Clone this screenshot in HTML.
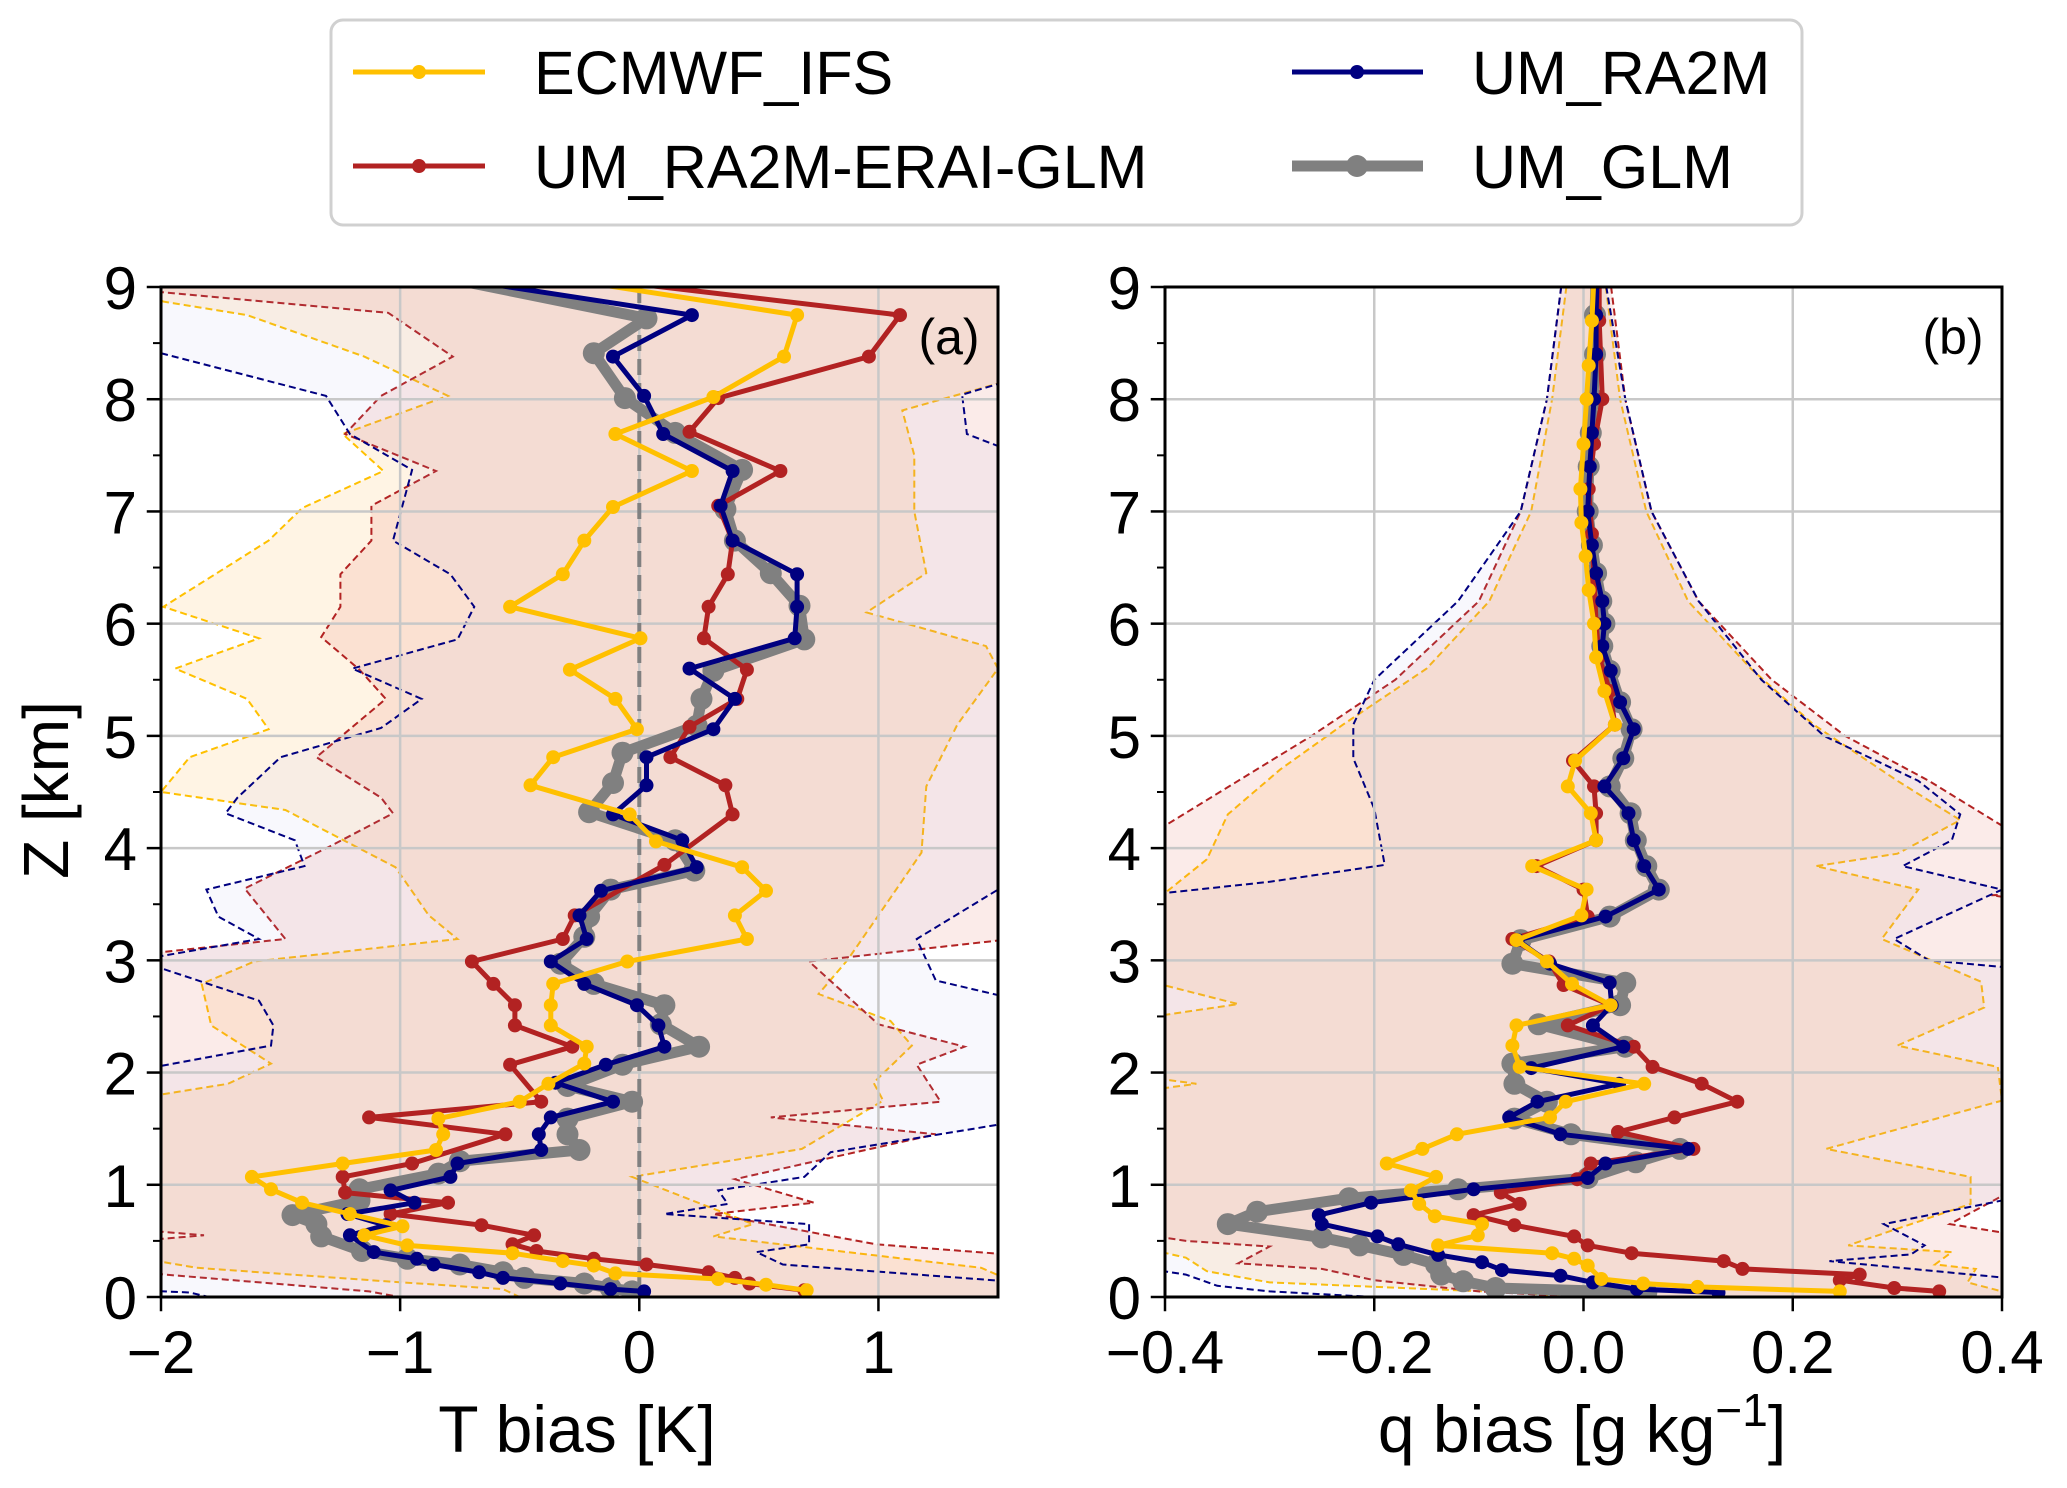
<!DOCTYPE html>
<html><head><meta charset="utf-8"><style>
html,body{margin:0;padding:0;background:#fff;}
svg{display:block;font-family:"Liberation Sans",sans-serif;}
</style></head><body>
<svg id="fig" width="2067" height="1488" viewBox="0 0 2067 1488" xmlns="http://www.w3.org/2000/svg">
<defs>
<clipPath id="clipA"><rect x="161" y="287" width="837" height="1010"/></clipPath>
<clipPath id="clipB"><rect x="1165" y="287" width="837" height="1010"/></clipPath>
</defs>
<g id="bandsA" clip-path="url(#clipA)"></g>
<g id="bandsB" clip-path="url(#clipB)"></g>
<g id="grid"></g>
<line x1="639.3" y1="287" x2="639.3" y2="1297" stroke="#808080" stroke-width="4" stroke-dasharray="16,8"/>
<g id="seriesA" clip-path="url(#clipA)"></g>
<g id="seriesB" clip-path="url(#clipB)"></g>
<g id="axes"></g>
<text x="949" y="354" font-size="50" text-anchor="middle">(a)</text>
<text x="1953" y="354" font-size="50" text-anchor="middle">(b)</text>
<text x="577" y="1452" font-size="66" text-anchor="middle">T bias [K]</text>
<text x="1582" y="1452" font-size="66" text-anchor="middle">q bias [g kg<tspan dy="-26" font-size="46">−1</tspan><tspan dy="26">]</tspan></text>
<text transform="translate(68,790) rotate(-90)" font-size="64" text-anchor="middle">Z [km]</text>
<g>
<rect x="331" y="20" width="1471" height="205" rx="12" fill="#fff" stroke="#d0d0d0" stroke-width="3"/>
<g>
<line x1="353" y1="72" x2="485" y2="72" stroke="#FFC000" stroke-width="5"/><circle cx="419" cy="72" r="7" fill="#FFC000"/>
<text x="534" y="94" font-size="61">ECMWF_IFS</text></g>
<g>
<line x1="353" y1="166" x2="485" y2="166" stroke="#B22222" stroke-width="5"/><circle cx="419" cy="166" r="7" fill="#B22222"/>
<text x="534" y="188" font-size="61">UM_RA2M-ERAI-GLM</text></g>
<g>
<line x1="1292" y1="72" x2="1423" y2="72" stroke="#000080" stroke-width="5"/><circle cx="1357" cy="72" r="7" fill="#000080"/>
<text x="1472" y="94" font-size="61">UM_RA2M</text></g>
<g>
<line x1="1292" y1="166" x2="1423" y2="166" stroke="#808080" stroke-width="11"/><circle cx="1357" cy="166" r="11" fill="#808080"/>
<text x="1472" y="188" font-size="61">UM_GLM</text></g>
</g>
</svg>
<script>
// ---------- Panel (a) T bias data: [value, z km] ----------
const aECMWF=[[-0.4,9.1],[0.66,8.75],[0.605,8.38],[0.31,8.02],[-0.10,7.69],[0.22,7.36],[-0.11,7.04],[-0.23,6.74],[-0.32,6.44],[-0.54,6.15],[0.005,5.87],[-0.29,5.59],[-0.10,5.33],[-0.01,5.06],[-0.36,4.81],[-0.455,4.56],[-0.04,4.30],[0.07,4.06],[0.43,3.83],[0.53,3.62],[0.40,3.40],[0.45,3.19],[-0.05,2.99],[-0.36,2.79],[-0.37,2.60],[-0.37,2.42],[-0.22,2.23],[-0.23,2.08],[-0.38,1.90],[-0.50,1.74],[-0.84,1.59],[-0.82,1.45],[-0.85,1.31],[-1.24,1.19],[-1.62,1.07],[-1.54,0.96],[-1.41,0.84],[-1.21,0.74],[-0.99,0.63],[-1.15,0.55],[-0.97,0.46],[-0.53,0.39],[-0.32,0.32],[-0.19,0.28],[-0.10,0.21],[0.33,0.16],[0.53,0.11],[0.70,0.06]];
const aRED=[[-0.3,9.1],[1.09,8.75],[0.96,8.38],[0.33,8.01],[0.21,7.71],[0.59,7.36],[0.33,7.05],[0.39,6.74],[0.37,6.44],[0.29,6.15],[0.27,5.87],[0.45,5.59],[0.41,5.33],[0.21,5.08],[0.13,4.81],[0.36,4.56],[0.39,4.30],[0.105,3.85],[-0.27,3.40],[-0.32,3.19],[-0.70,2.99],[-0.61,2.79],[-0.52,2.60],[-0.52,2.42],[-0.28,2.23],[-0.54,2.07],[-0.41,1.74],[-1.13,1.60],[-0.56,1.45],[-0.95,1.19],[-1.24,1.07],[-1.23,0.93],[-0.80,0.84],[-1.04,0.74],[-0.66,0.64],[-0.44,0.55],[-0.53,0.47],[-0.43,0.41],[-0.19,0.34],[0.03,0.29],[0.29,0.22],[0.40,0.17],[0.46,0.12],[0.69,0.06]];
const aBLUE=[[-0.85,9.1],[0.22,8.75],[-0.11,8.38],[0.02,8.03],[0.10,7.69],[0.39,7.36],[0.34,7.05],[0.39,6.74],[0.66,6.44],[0.66,6.15],[0.65,5.87],[0.21,5.60],[0.40,5.33],[0.31,5.06],[0.03,4.81],[0.03,4.56],[-0.11,4.30],[0.18,4.07],[0.24,3.83],[-0.16,3.62],[-0.25,3.40],[-0.22,3.19],[-0.37,2.99],[-0.23,2.79],[-0.01,2.60],[0.08,2.42],[0.105,2.23],[-0.14,2.07],[-0.35,1.91],[-0.11,1.74],[-0.37,1.60],[-0.42,1.45],[-0.41,1.31],[-0.76,1.19],[-0.79,1.07],[-1.04,0.95],[-0.94,0.84],[-1.22,0.74],[-1.06,0.64],[-1.21,0.55],[-1.11,0.40],[-0.93,0.34],[-0.86,0.29],[-0.67,0.22],[-0.57,0.17],[-0.33,0.12],[-0.12,0.07],[0.02,0.05]];
const aGRAY=[[-0.85,9.1],[0.03,8.72],[-0.19,8.41],[-0.06,8.01],[0.15,7.70],[0.43,7.37],[0.36,7.02],[0.40,6.74],[0.55,6.45],[0.67,6.16],[0.69,5.86],[0.31,5.58],[0.26,5.33],[0.24,5.09],[-0.07,4.85],[-0.11,4.58],[-0.21,4.32],[0.15,4.07],[0.23,3.80],[-0.12,3.63],[-0.21,3.39],[-0.23,3.21],[-0.33,2.97],[-0.19,2.79],[0.105,2.60],[0.09,2.43],[0.25,2.23],[-0.07,2.07],[-0.30,1.88],[-0.03,1.74],[-0.30,1.59],[-0.30,1.45],[-0.25,1.31],[-0.75,1.21],[-0.84,1.10],[-1.17,0.96],[-1.17,0.86],[-1.45,0.73],[-1.35,0.65],[-1.33,0.54],[-1.16,0.41],[-0.97,0.34],[-0.75,0.29],[-0.57,0.22],[-0.48,0.17],[-0.23,0.12],[-0.12,0.08],[-0.03,0.05]];
const aBandYL=[[-2.2,9.1],[-1.99,8.87],[-1.64,8.75],[-1.15,8.38],[-0.80,8.03],[-1.24,7.69],[-1.07,7.36],[-1.41,7.03],[-1.55,6.74],[-1.99,6.15],[-1.59,5.87],[-1.94,5.6],[-1.64,5.33],[-1.55,5.06],[-1.88,4.81],[-2.0,4.5],[-1.48,4.34],[-1.02,3.83],[-0.88,3.40],[-0.76,3.19],[-1.61,2.99],[-1.83,2.79],[-1.79,2.42],[-1.54,2.08],[-1.72,1.90],[-2.1,1.77],[-2.1,0.35],[-1.85,0.26],[-1.06,0.14],[-0.57,0.07],[-0.5,0]];
const aBandYR=[[1.6,9.1],[1.6,8.2],[1.1,7.9],[1.15,7.5],[1.15,7.0],[1.2,6.45],[0.95,6.1],[1.45,5.8],[1.5,5.6],[1.33,5.1],[1.2,4.55],[1.18,3.96],[1.0,3.4],[0.87,3.0],[0.75,2.7],[1.05,2.46],[1.14,2.24],[0.98,1.91],[1.02,1.75],[0.68,1.32],[-0.03,1.07],[0.475,0.65],[0.31,0.54],[1.43,0.26],[1.6,0.1],[1.6,0]];
const aBandRL=[[-2.2,9.0],[-1.98,8.95],[-1.05,8.77],[-0.78,8.38],[-1.08,8.03],[-1.23,7.69],[-0.85,7.36],[-1.12,7.05],[-1.12,6.74],[-1.25,6.44],[-1.25,6.15],[-1.33,5.88],[-1.17,5.59],[-1.06,5.33],[-1.35,4.81],[-1.08,4.45],[-1.03,4.31],[-1.28,4.03],[-1.65,3.64],[-1.48,3.19],[-2.1,3.05],[-2.1,0.6],[-1.82,0.55],[-2.1,0.5],[-2.1,0.22],[-1.13,0.05],[-1.0,0]];
const aBandRR=[[1.6,9.0],[1.6,3.2],[0.71,2.99],[1.0,2.43],[1.36,2.23],[1.16,2.07],[1.26,1.74],[0.55,1.60],[1.24,1.45],[0.40,1.05],[0.73,0.84],[0.31,0.74],[0.99,0.47],[1.6,0.37],[1.6,0]];
const aBandBL=[[-2.2,9.1],[-2.2,8.45],[-2.0,8.41],[-1.31,8.03],[-1.21,7.69],[-0.95,7.37],[-1.03,6.74],[-0.79,6.44],[-0.69,6.15],[-0.76,5.86],[-1.20,5.6],[-0.91,5.33],[-1.08,5.07],[-1.50,4.81],[-1.68,4.45],[-1.73,4.31],[-1.44,4.07],[-1.40,3.84],[-1.81,3.63],[-1.76,3.39],[-1.59,3.19],[-2.1,3.0],[-1.59,2.64],[-1.53,2.42],[-1.54,2.24],[-2.1,2.02],[-2.1,0.06],[-1.88,0.04],[-1.8,0]];
const aBandBR=[[1.6,9.1],[1.6,8.2],[1.35,8.04],[1.37,7.69],[1.6,7.5],[1.6,3.7],[1.5,3.63],[1.16,3.19],[1.24,2.82],[1.6,2.64],[1.6,1.57],[0.80,1.29],[0.69,1.07],[0.33,0.95],[0.37,0.83],[0.105,0.74],[0.71,0.65],[0.71,0.47],[0.49,0.40],[0.60,0.29],[1.6,0.13],[1.6,0]];
// ---------- Panel (b) q bias data ----------
const bECMWF=[[0.01,9.1],[0.008,8.7],[0.005,8.3],[0.003,8.0],[0.0,7.6],[-0.003,7.2],[-0.002,6.9],[0.002,6.6],[0.005,6.3],[0.01,6.0],[0.012,5.7],[0.02,5.4],[0.03,5.1],[-0.008,4.78],[-0.015,4.55],[0.007,4.31],[0.012,4.07],[-0.049,3.84],[0.003,3.63],[-0.002,3.40],[-0.064,3.18],[-0.035,2.99],[-0.011,2.79],[0.026,2.60],[-0.064,2.42],[-0.068,2.24],[-0.061,2.05],[0.058,1.90],[-0.017,1.74],[-0.032,1.60],[-0.121,1.45],[-0.154,1.32],[-0.188,1.19],[-0.141,1.07],[-0.165,0.95],[-0.157,0.83],[-0.142,0.72],[-0.097,0.65],[-0.101,0.55],[-0.139,0.46],[-0.03,0.39],[-0.009,0.34],[0.004,0.28],[0.017,0.16],[0.057,0.12],[0.109,0.09],[0.245,0.05]];
const bRED=[[0.015,9.1],[0.015,8.7],[0.018,8.0],[0.01,7.6],[0.005,7.2],[0.008,6.8],[0.01,6.4],[0.012,6.0],[0.015,5.7],[0.025,5.4],[0.03,5.1],[-0.01,4.78],[0.01,4.55],[0.012,4.31],[0.012,4.07],[-0.045,3.84],[0.0,3.63],[0.004,3.39],[-0.068,3.19],[-0.033,2.99],[-0.019,2.78],[0.026,2.60],[-0.015,2.42],[0.048,2.23],[0.066,2.05],[0.113,1.90],[0.147,1.74],[0.087,1.60],[0.033,1.47],[0.105,1.32],[0.007,1.19],[-0.006,1.05],[-0.079,0.93],[-0.061,0.83],[-0.105,0.73],[-0.066,0.64],[-0.009,0.54],[0.004,0.46],[0.046,0.39],[0.134,0.32],[0.152,0.25],[0.264,0.20],[0.245,0.15],[0.297,0.08],[0.34,0.05]];
const bBLUE=[[0.013,9.1],[0.012,8.75],[0.012,8.4],[0.010,8.0],[0.008,7.7],[0.006,7.4],[0.004,7.0],[0.008,6.7],[0.012,6.45],[0.018,6.2],[0.02,6.0],[0.018,5.8],[0.026,5.58],[0.035,5.3],[0.048,5.06],[0.038,4.8],[0.02,4.55],[0.043,4.31],[0.048,4.07],[0.058,3.84],[0.072,3.63],[0.021,3.39],[-0.063,3.18],[-0.032,2.97],[0.025,2.80],[0.027,2.60],[0.009,2.42],[0.038,2.23],[-0.05,2.04],[0.034,1.90],[-0.044,1.74],[-0.071,1.60],[-0.022,1.45],[0.10,1.32],[0.021,1.19],[0.004,1.06],[-0.105,0.96],[-0.203,0.84],[-0.253,0.73],[-0.25,0.65],[-0.197,0.54],[-0.177,0.47],[-0.139,0.375],[-0.097,0.31],[-0.078,0.24],[-0.022,0.19],[0.009,0.13],[0.051,0.07],[0.129,0.04]];
const bGRAY=[[0.012,9.1],[0.011,8.75],[0.011,8.4],[0.009,8.0],[0.007,7.7],[0.005,7.4],[0.004,7.0],[0.008,6.7],[0.012,6.45],[0.017,6.2],[0.02,6.0],[0.018,5.8],[0.025,5.58],[0.035,5.3],[0.046,5.06],[0.038,4.8],[0.025,4.55],[0.045,4.31],[0.05,4.07],[0.06,3.84],[0.072,3.63],[0.025,3.39],[-0.06,3.18],[-0.068,2.97],[0.04,2.80],[0.035,2.60],[-0.043,2.43],[0.04,2.23],[-0.068,2.08],[-0.066,1.90],[-0.035,1.74],[-0.066,1.59],[-0.012,1.45],[0.092,1.32],[0.05,1.20],[0.004,1.06],[-0.12,0.96],[-0.224,0.88],[-0.312,0.76],[-0.34,0.65],[-0.25,0.53],[-0.214,0.46],[-0.172,0.375],[-0.141,0.29],[-0.136,0.20],[-0.115,0.14],[-0.084,0.08],[0.06,0.04]];
const bBandYL=[[-0.015,9.1],[-0.03,8],[-0.05,7],[-0.09,6.2],[-0.15,5.6],[-0.23,5.1],[-0.29,4.7],[-0.34,4.3],[-0.36,3.9],[-0.4,3.6],[-0.45,3.3],[-0.41,2.8],[-0.33,2.61],[-0.41,2.5],[-0.45,2.0],[-0.37,1.9],[-0.45,1.8],[-0.45,0.5],[-0.38,0.35],[-0.36,0.23],[-0.30,0.13],[-0.07,0.04],[0,0]];
const bBandYR=[[0.02,9.1],[0.035,8],[0.06,7],[0.1,6.2],[0.16,5.6],[0.22,5.1],[0.3,4.6],[0.36,4.25],[0.3,3.95],[0.222,3.84],[0.32,3.63],[0.285,3.19],[0.38,2.81],[0.383,2.58],[0.30,2.24],[0.396,2.05],[0.4,1.75],[0.232,1.32],[0.37,1.07],[0.37,0.83],[0.253,0.46],[0.352,0.40],[0.336,0.29],[0.375,0.25],[0.367,0.13],[0.4,0.05],[0.4,0]];
const bBandRL=[[-0.02,9.1],[-0.035,8],[-0.06,7],[-0.1,6.2],[-0.18,5.5],[-0.26,5.0],[-0.33,4.6],[-0.4,4.2],[-0.45,4.0],[-0.45,0.6],[-0.38,0.5],[-0.3,0.45],[-0.33,0.3],[-0.25,0.25],[-0.2,0.15],[-0.1,0.05],[0,0]];
const bBandRR=[[0.025,9.1],[0.04,8],[0.065,7],[0.11,6.2],[0.18,5.5],[0.25,5.0],[0.33,4.6],[0.4,4.2],[0.45,4.0],[0.45,3.6],[0.39,3.58],[0.45,3.5],[0.45,1.0],[0.4,0.9],[0.35,0.65],[0.45,0.5],[0.45,0]];
const bBandBL=[[-0.02,9.1],[-0.035,8],[-0.06,7],[-0.12,6.2],[-0.2,5.5],[-0.22,5.1],[-0.22,4.8],[-0.2,4.35],[-0.19,3.85],[-0.3,3.7],[-0.4,3.6],[-0.45,3.5],[-0.45,0.3],[-0.38,0.2],[-0.35,0.1],[-0.3,0.05],[-0.2,0]];
const bBandBR=[[0.02,9.1],[0.04,8],[0.065,7],[0.11,6.2],[0.17,5.5],[0.23,5.0],[0.32,4.6],[0.36,4.3],[0.352,4.07],[0.305,3.84],[0.4,3.63],[0.297,3.19],[0.33,3.0],[0.45,2.9],[0.45,0.9],[0.4,0.86],[0.287,0.65],[0.326,0.46],[0.313,0.38],[0.235,0.32],[0.45,0.13],[0.45,0]];
const zTicks=[0,1,2,3,4,5,6,7,8,9];
const aTicks=[-2,-1,0,1];
const aTickLabels=["−2","−1","0","1"];
const bTicks=[-0.4,-0.2,0,0.2,0.4];
const bTickLabels=["−0.4","−0.2","0.0","0.2","0.4"];

const NS="http://www.w3.org/2000/svg";
const Y0=1297,Y1=287;
function yz(z){return Y0-(z/9)*(Y0-Y1);}
function xa(v){return 161+(v+2)/3.5*837;}
function xb(v){return 1165+(v+0.4)/0.8*837;}
function mk(tag,parent){const e=document.createElementNS(NS,tag);parent.appendChild(e);return e;}
function pts(arr,xf){return arr.map(p=>xf(p[0]).toFixed(1)+","+yz(p[1]).toFixed(1)).join(" ");}

function drawBand(g,L,R,xf,fill,op,stroke,name){
  const poly=mk("polygon",g);
  
  
  poly.setAttribute("points",pts(L,xf)+" "+pts(R.slice().reverse(),xf));
  poly.setAttribute("fill",fill);poly.setAttribute("fill-opacity",op);
  [L,R].forEach((b,i)=>{
    const pl=mk("polyline",g);
    
    
    pl.setAttribute("points",pts(b,xf));pl.setAttribute("fill","none");
    pl.setAttribute("stroke",stroke);pl.setAttribute("stroke-width","2");pl.setAttribute("stroke-dasharray","7,4");
  });
}
const bA=document.getElementById("bandsA"),bB=document.getElementById("bandsB");
drawBand(bA,aBandYL,aBandYR,xa,"rgb(255,200,120)",0.2,"#FFC000","ecmwf-band-a");
drawBand(bA,aBandRL,aBandRR,xa,"rgb(230,120,110)",0.15,"#B22222","red-band-a");
drawBand(bA,aBandBL,aBandBR,xa,"rgb(160,160,230)",0.08,"#000080","blue-band-a");
drawBand(bB,bBandYL,bBandYR,xb,"rgb(255,200,120)",0.2,"#FFC000","ecmwf-band-b");
drawBand(bB,bBandRL,bBandRR,xb,"rgb(230,120,110)",0.15,"#B22222","red-band-b");
drawBand(bB,bBandBL,bBandBR,xb,"rgb(160,160,230)",0.08,"#000080","blue-band-b");

const grid=document.getElementById("grid");
function gl(x1,y1,x2,y2){const l=mk("line",grid);
  
  
  l.setAttribute("x1",x1);l.setAttribute("y1",y1);l.setAttribute("x2",x2);l.setAttribute("y2",y2);
  l.setAttribute("stroke","#c8c8c8");l.setAttribute("stroke-width","2.5");}
zTicks.forEach(z=>{gl(161,yz(z),998,yz(z));gl(1165,yz(z),2002,yz(z));});
aTicks.forEach(v=>gl(xa(v),Y1,xa(v),Y0));
bTicks.forEach(v=>gl(xb(v),Y1,xb(v),Y0));

function drawSeries(g,arr,xf,color,lw,r,name){
  const pl=mk("polyline",g);
  
  
  pl.setAttribute("points",pts(arr,xf));pl.setAttribute("fill","none");
  pl.setAttribute("stroke",color);pl.setAttribute("stroke-width",lw);pl.setAttribute("stroke-linejoin","round");
  arr.forEach(p=>{const c=mk("circle",g);
    
    
    c.setAttribute("cx",xf(p[0]).toFixed(1));c.setAttribute("cy",yz(p[1]).toFixed(1));
    c.setAttribute("r",r);c.setAttribute("fill",color);});
}
const sA=document.getElementById("seriesA"),sB=document.getElementById("seriesB");
drawSeries(sA,aGRAY,xa,"#808080",11,11,"um-glm-a");
drawSeries(sA,aRED,xa,"#B22222",5,7,"um-ra2m-erai-glm-a");
drawSeries(sA,aBLUE,xa,"#000080",5,7,"um-ra2m-a");
drawSeries(sA,aECMWF,xa,"#FFC000",5,7,"ecmwf-ifs-a");
drawSeries(sB,bGRAY,xb,"#808080",11,11,"um-glm-b");
drawSeries(sB,bRED,xb,"#B22222",5,7,"um-ra2m-erai-glm-b");
drawSeries(sB,bBLUE,xb,"#000080",5,7,"um-ra2m-b");
drawSeries(sB,bECMWF,xb,"#FFC000",5,7,"ecmwf-ifs-b");

const ax=document.getElementById("axes");
function line(x1,y1,x2,y2,w,name){const l=mk("line",ax);
  
  
  l.setAttribute("x1",x1);l.setAttribute("y1",y1);l.setAttribute("x2",x2);l.setAttribute("y2",y2);
  l.setAttribute("stroke","#000");l.setAttribute("stroke-width",w);l.setAttribute("stroke-linecap","square");}
function txt(x,y,s,anchor,name){const t=mk("text",ax);
  
  
  t.setAttribute("x",x);t.setAttribute("y",y);t.setAttribute("font-size","60");t.setAttribute("text-anchor",anchor);t.textContent=s;}
[[161,998],[1165,2002]].forEach((p,i)=>{
  const nm=i?'panel-b':'panel-a';
  const r=mk("rect",ax);
  
  
  r.setAttribute("x",p[0]);r.setAttribute("y",Y1);r.setAttribute("width",p[1]-p[0]);r.setAttribute("height",Y0-Y1);
  r.setAttribute("fill","none");r.setAttribute("stroke","#000");r.setAttribute("stroke-width","3");
  zTicks.forEach(z=>{line(p[0]-13,yz(z),p[0],yz(z),2.5,'y-tick');txt(p[0]-24,yz(z)+22,String(z),"end",'y-tick-label');});
  zTicks.slice(0,9).forEach(z=>line(p[0]-7,yz(z+0.5),p[0],yz(z+0.5),2,'y-minor-tick'));
});
aTicks.forEach((v,i)=>{line(xa(v),Y0,xa(v),Y0+13,2.5,'x-tick-a');txt(xa(v),1373,aTickLabels[i],"middle",'x-tick-label-a');});
bTicks.forEach((v,i)=>{line(xb(v),Y0,xb(v),Y0+13,2.5,'x-tick-b');txt(xb(v),1373,bTickLabels[i],"middle",'x-tick-label-b');});
</script>
</body></html>
